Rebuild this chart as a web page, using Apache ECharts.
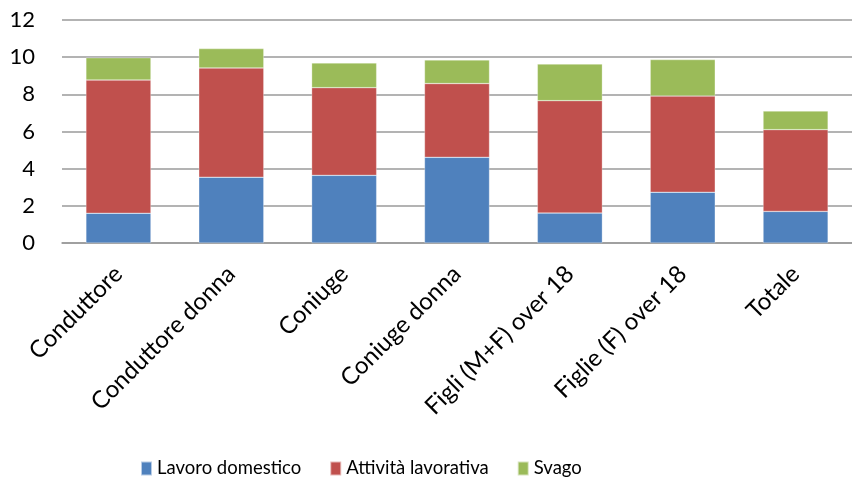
<!DOCTYPE html>
<html><head><meta charset="utf-8">
<script src="https://cdn.jsdelivr.net/npm/echarts@6/dist/echarts.min.js"></script>
<style>html,body{margin:0;padding:0;background:#fff}#c{width:852px;height:478px}</style>
</head><body><div id="c"></div>
<script>
const categories = ["Conduttore","Conduttore donna","Coniuge","Coniuge donna","Figli (M+F) over 18","Figlie (F) over 18","Totale"];
const lavoroDomestico = [1.60, 3.54, 3.64, 4.61, 1.61, 2.73, 1.70];
const attivitaLavorativa = [7.17, 5.88, 4.72, 3.97, 6.05, 5.18, 4.40];
const svago = [1.20, 1.04, 1.33, 1.27, 1.97, 1.96, 1.00];
const yTicks = [0, 2, 4, 6, 8, 10, 12];

const font = "Lato, 'Open Sans', sans-serif";
const chart = echarts.init(document.getElementById('c'));
const mk = (name, data, color) => ({
  name, type: 'bar', stack: 'tot', data, barWidth: '57.6%',
  itemStyle: { color, borderColor: 'rgba(255,255,255,0.6)', borderWidth: 0.5 }
});
chart.setOption({
  animation: false,
  textStyle: { fontFamily: font },
  grid: { left: 62, right: 0, top: 20, bottom: 235 },
  legend: {
    left: 135, top: 454, itemWidth: 11, itemHeight: 14, itemGap: 28,
    icon: 'rect',
    textStyle: { fontSize: 18.5, color: '#000', fontFamily: font },
    data: ['Lavoro domestico', 'Attività lavorativa', 'Svago']
  },
  xAxis: {
    type: 'category', data: categories,
    axisLine: { lineStyle: { color: '#9a9a9a', width: 1.5 } },
    axisTick: { show: false },
    axisLabel: { rotate: 45, fontSize: 24, color: '#000', margin: 27, interval: 0, fontFamily: font }
  },
  yAxis: {
    type: 'value', min: yTicks[0], max: yTicks[yTicks.length - 1], interval: 2,
    axisLine: { show: false }, axisTick: { show: false },
    axisLabel: { fontSize: 22, color: '#000', margin: 27, fontFamily: font },
    splitLine: { lineStyle: { color: '#9a9a9a', width: 1.5 } }
  },
  series: [
    mk('Lavoro domestico', lavoroDomestico, '#4F81BD'),
    mk('Attività lavorativa', attivitaLavorativa, '#C0504D'),
    mk('Svago', svago, '#9BBB59')
  ]
});
</script></body></html>
